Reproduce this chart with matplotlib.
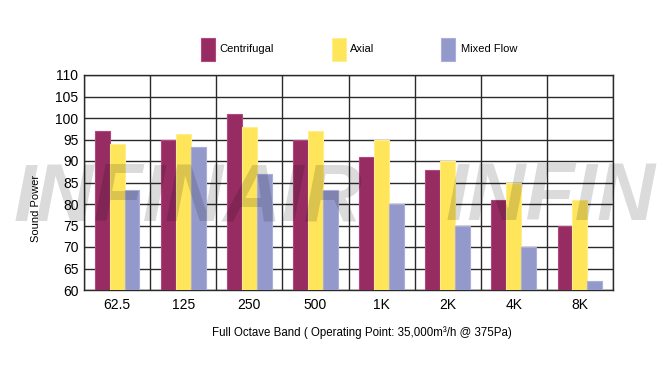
import matplotlib
matplotlib.use("Agg")
import matplotlib.pyplot as plt
import numpy as np
from matplotlib.patches import Rectangle

categories = ["62.5", "125", "250", "500", "1K", "2K", "4K", "8K"]
centrifugal = [97, 95, 101, 95, 91, 88, 81, 75]
axial = [94, 96.2, 98, 97, 95, 90, 85, 81]
mixed_flow = [83.3, 93.2, 87, 83.3, 80, 75, 70, 62]
series_names = ["Centrifugal", "Axial", "Mixed Flow"]
yticks = list(range(60, 111, 5))

colors = ["#962C62", "#FFE55A", "#9499CC"]
edges = ["#B2467E", "#FFEE8A", "#AAAEDA"]

plt.rcParams['font.family'] = ['Liberation Sans', 'DejaVu Sans']

fig = plt.figure(figsize=(6.67, 3.82), dpi=100)
ax = fig.add_axes([84/667, 1-290/382, (613-84)/667, (290-75)/382])

x = np.arange(len(categories))
w = 0.225
for i, (vals, c, e) in enumerate(zip([centrifugal, axial, mixed_flow], colors, edges)):
    ax.bar(x + (i-1)*w, np.array(vals) - 60, bottom=60, width=w, color=c,
           edgecolor=e, linewidth=0.8, zorder=3)

ax.set_xlim(-0.5, len(categories)-0.5)
ax.set_ylim(60, 110)
ax.set_yticks(yticks)
ax.set_yticklabels([str(v) for v in yticks], fontsize=10)
ax.set_xticks(x)
ax.set_xticklabels(categories, fontsize=10)
ax.tick_params(axis='x', which='both', length=0, pad=6)
ax.tick_params(axis='y', length=0, pad=4)
ax.grid(False)
for yv in yticks:
    ax.axhline(yv, color="#2a2a2a", linewidth=1.0, zorder=1)
for xv in np.arange(-0.5, len(categories)):
    ax.axvline(xv, color="#2a2a2a", linewidth=1.0, zorder=1)
for s in ax.spines.values():
    s.set_color("#2a2a2a")
    s.set_linewidth(1.0)

ax.set_ylabel("Sound Power", fontsize=8)
ax.yaxis.set_label_coords(-0.081, 0.38)
fig.text(362/667, 1-333/382, "Full Octave Band ( Operating Point: 35,000m³/h @ 375Pa)",
         ha='center', va='center', fontsize=8.3)

# legend
leg = [(201, 219), (332, 350), (441, 461)]
for (px, tx), name, c, e in zip(leg, series_names, colors, edges):
    fig.patches.append(Rectangle((px/667, 1-61/382), 14/667, 23/382,
                                 transform=fig.transFigure, facecolor=c,
                                 edgecolor=e, linewidth=0.8))
    fig.text(tx/667, 1-49/382, name, ha='left', va='center', fontsize=8)

# watermark
for wx, word in [(14, "INFINAIR"), (446, "INFIN")]:
    fig.text(wx/667, 1-220/382, word, ha='left', va='baseline',
             fontsize=58, fontweight='bold', fontstyle='italic', color='black',
             alpha=0.14, zorder=10)

fig.savefig("out.png", dpi=100)
